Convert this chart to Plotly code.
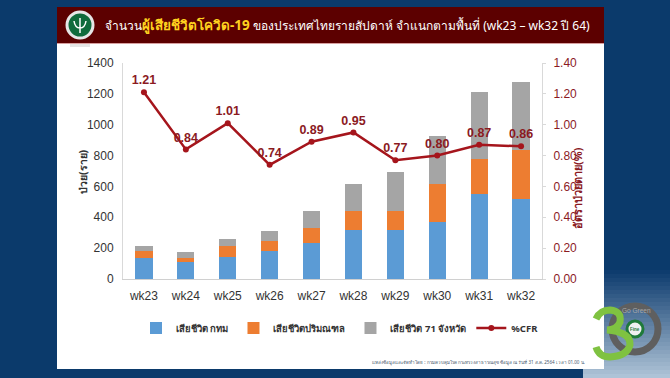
import plotly.graph_objects as go

weeks = ["wk23","wk24","wk25","wk26","wk27","wk28","wk29","wk30","wk31","wk32"]
bkk = [136,110,143,179,233,315,315,367,551,521]
metro = [48,26,69,69,97,123,123,248,230,317]
prov = [32,39,49,63,113,177,255,309,428,439]
cfr = [1.21,0.84,1.01,0.74,0.89,0.95,0.77,0.80,0.87,0.86]
cfr_labels = ["1.21","0.84","1.01","0.74","0.89","0.95","0.77","0.80","0.87","0.86"]

W, H = 670, 378
L, R, T, B = 123, 128, 63, 99
DARK = "#8b1a1f"
FONT = "Liberation Sans, Arial, sans-serif"
THAI = "Noto Sans, DejaVu Sans, sans-serif"

def px(x): return (x - L) / (W - L - R)
def py(y): return (H - B - y) / (H - T - B)
def rect(x0, y0, x1, y1, color):
    return dict(type="rect", xref="paper", yref="paper", x0=px(x0), x1=px(x1), y0=py(y1), y1=py(y0),
                fillcolor=color, line_width=0, layer="below")

fig = go.Figure()
for name, vals, col in [("เสียชีวิต กทม", bkk, "#5b9bd5"),
                        ("เสียชีวิตปริมณฑล", metro, "#ed7d31"),
                        ("เสียชีวิต 71 จังหวัด", prov, "#a5a5a5")]:
    fig.add_trace(go.Bar(x=weeks, y=vals, name=name, marker_color=col, marker_line_width=0, width=0.41, showlegend=True))
fig.add_trace(go.Scatter(x=weeks, y=cfr, name="%CFR", yaxis="y2", mode="lines+markers+text",
                         line=dict(color="#a5151c", width=2.5), marker=dict(size=6, color="#a5151c"),
                         text=cfr_labels, textposition="top center",
                         textfont=dict(color=DARK, size=12.5, family=FONT, weight="bold")))

# page background: navy with a lighter lower-right corner
shapes = [rect(0, 0, W, H, "#0b3a6b")]
n = 27
for i in range(n):
    t = i / (n - 1)
    c = f"rgb({int(14 + t * 160)},{int(60 + t * 135)},{int(110 + t * 105)})"
    shapes.append(rect(583, 270 + i * 4, W, 274 + i * 4, c))
shapes += [
    rect(57, 7, 604, 369, "white"),
    rect(57, 7, 604, 43, "#5c0000"),
    rect(57, 43, 604, 44, "#d8a0a0"),
    rect(70, 44, 90, 47, "#e4e4e4"),
    dict(type="circle", xref="paper", yref="paper", x0=px(67), x1=px(93), y0=py(38), y1=py(12),
         fillcolor="#0f6b3c", line=dict(color="#e6e6e6", width=3)),
    dict(type="path", xref="paper", yref="paper",
         path=f"M {px(80)} {py(18)} L {px(80)} {py(33)} M {px(74)} {py(21)} Q {px(75)} {py(28)} {px(80)} {py(28)} Q {px(85)} {py(28)} {px(86)} {py(21)}",
         line=dict(color="white", width=1.5), fillcolor="rgba(0,0,0,0)"),
    dict(type="circle", xref="paper", yref="paper", x0=px(612), x1=px(658), y0=py(352), y1=py(306),
         fillcolor="rgba(0,0,0,0)", line=dict(color="#5f5f5f", width=7)),
    dict(type="circle", xref="paper", yref="paper", x0=px(627), x1=px(643), y0=py(337), y1=py(321),
         fillcolor="#f0f0f0", line=dict(color="#1f7a3a", width=3)),
    dict(type="path", xref="paper", yref="paper",
         path=f"M {px(596)} {py(319)} Q {px(600)} {py(310)} {px(610)} {py(310)} Q {px(622)} {py(311)} {px(620)} {py(322)} "
              f"Q {px(617)} {py(330)} {px(607)} {py(330)} Q {px(631)} {py(332)} {px(630)} {py(345)} "
              f"Q {px(627)} {py(356)} {px(610)} {py(357)} Q {px(599)} {py(357)} {px(596)} {py(347)}",
         line=dict(color="#7fc241", width=7), fillcolor="rgba(0,0,0,0)"),
]

def note(x, y, text, size, color, anchor="left", angle=0, family=THAI):
    return dict(xref="paper", yref="paper", x=px(x), y=py(y), text=text, showarrow=False, xanchor=anchor,
                yanchor="middle", textangle=angle, font=dict(size=size, color=color, family=family))

annotations = [
    note(103, 25, 'จำนวน<span style="color:#ffd21f;font-size:13.5px"><b>ผู้เสียชีวิตโควิด-19</b></span> ของประเทศไทยรายสัปดาห์ จำแนกตามพื้นที่ (wk23 – wk32 ปี 64)', 12, "white"),
    note(83, 172, "<b>ป่วย(ราย)</b>", 10.5, "#333333", "center", -90),
    note(577, 188, "<b>อัตราป่วยตาย(%)</b>", 11, DARK, "center", -90),
    note(370, 362, "แหล่งข้อมูลและจัดทำโดย : กรมควบคุมโรค กระทรวงสาธารณสุข ข้อมูล ณ วันที่ 31 ส.ค. 2564 เวลา 01.00 น.", 4.5, "#44546a"),
    note(635, 329, "<b>Fine</b>", 4.5, "#1f7a3a", "center", family=FONT),
    note(636, 310, "Go Green", 6.5, "#a8a8a8", "center", family=FONT),
]

tick = dict(size=12, color="#333333")
fig.update_layout(
    width=W, height=H, autosize=False, barmode="stack", bargap=0.59,
    paper_bgcolor="#0b3a6b", plot_bgcolor="rgba(0,0,0,0)",
    margin=dict(l=L, r=R, t=T, b=B, pad=0),
    font=dict(family=FONT),
    xaxis=dict(range=[-0.5, 9.5], tickfont=tick, showgrid=False, linecolor="#d0d0d0", showline=True, ticks="", ticklabelstandoff=6),
    yaxis=dict(range=[0,1400], dtick=200, tickfont=tick, showgrid=False,
               showline=True, linecolor="#d9d9d9", ticks="", zeroline=False, ticklabelstandoff=6),
    yaxis2=dict(range=[0,1.4], dtick=0.2, tickformat=".2f", overlaying="y", side="right",
                tickfont=dict(size=12, color=DARK), showgrid=False, showline=True, linecolor="#d9d9d9",
                ticks="outside", ticklen=3, tickcolor="#d9d9d9", zeroline=False, ticklabelstandoff=5),
    legend=dict(orientation="h", x=px(136), y=py(328), xanchor="left", yanchor="middle",
                font=dict(size=9.5, color="#333333", family=THAI, weight="bold"), bgcolor="rgba(0,0,0,0)",
                itemwidth=30, traceorder="normal"),
    shapes=shapes, annotations=annotations, showlegend=True,
)
fig.write_html("out.html", config=dict(displayModeBar=False),
               post_script="document.body.style.margin='0';document.body.style.overflow='hidden';")
